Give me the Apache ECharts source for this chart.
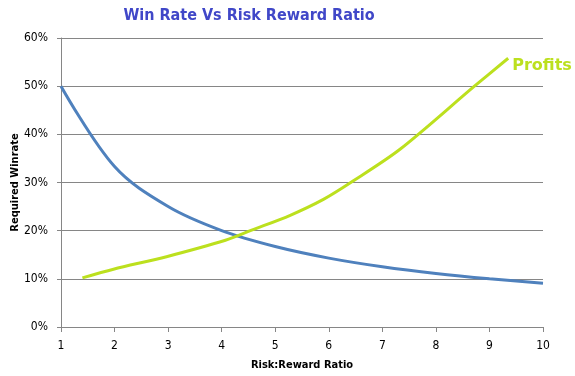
<!DOCTYPE html>
<html>
<head>
<meta charset="utf-8">
<script src="https://cdn.jsdelivr.net/npm/echarts@6/dist/echarts.min.js"></script>
<style>
  html, body { margin: 0; padding: 0; background: #fff; }
  #chart { width: 575px; height: 376px; }
</style>
</head>
<body>
<div id="chart"></div>
<script>
const ratios = [1, 2, 3, 4, 5, 6, 7, 8, 9, 10];
const winrate = [50, 33.3, 25, 20, 16.7, 14.3, 12.5, 11.1, 10, 9.1];

const profitX = [1.4, 1.98, 2.97, 4.07, 4.56, 5.28, 5.9, 6.41, 7.33, 8.72, 9.35];
const profitY = [10.2, 12, 14.6, 18, 20.1, 23.2, 26.5, 30, 36.9, 50, 55.8];

const font = "'DejaVu Sans Condensed', 'DejaVu Sans', sans-serif";
const gray = "#868686";

const option = {
  animation: false,
  textStyle: { fontFamily: font },
  title: {
    text: "Win Rate Vs Risk Reward Ratio",
    left: 244,
    textAlign: "center",
    top: 3,
    textStyle: { color: "#4047c8", fontSize: 16, fontWeight: "bold", fontFamily: font },
  },
  grid: { left: 61, right: 32, top: 38, bottom: 49, outerBoundsMode: "none" },
  xAxis: {
    type: "value",
    min: 1,
    max: 10,
    interval: 1,
    name: "Risk:Reward Ratio",
    nameLocation: "middle",
    nameGap: 33,
    nameMoveOverlap: false,
    nameTextStyle: { fontSize: 11, fontWeight: "bold", color: "#000", fontFamily: font },
    axisLine: { lineStyle: { color: gray } },
    axisTick: { show: true, length: 5, lineStyle: { color: gray } },
    axisLabel: { color: "#000", fontSize: 12, margin: 13, fontFamily: font },
    splitLine: { show: false },
  },
  yAxis: {
    type: "value",
    min: 0,
    max: 60,
    interval: 10,
    name: "Required Winrate",
    nameLocation: "middle",
    nameGap: 40,
    nameMoveOverlap: false,
    nameTextStyle: { fontSize: 11, fontWeight: "bold", color: "#000", fontFamily: font },
    axisLine: { show: true, lineStyle: { color: gray } },
    axisTick: { show: true, length: 4, lineStyle: { color: gray } },
    axisLabel: { color: "#000", fontSize: 12, formatter: "{value}%", margin: 13, fontFamily: font },
    splitLine: { lineStyle: { color: gray } },
  },
  series: [
    {
      type: "line",
      data: ratios.map((r, i) => [r, winrate[i]]),
      smooth: 0.35,
      showSymbol: false,
      lineStyle: { color: "#4f81bd", width: 3 },
    },
    {
      type: "line",
      data: profitX.map((r, i) => [r, profitY[i]]),
      smooth: 0.3,
      showSymbol: false,
      lineStyle: { color: "#bce01e", width: 3 },
      endLabel: {
        show: true,
        formatter: "Profits",
        color: "#bce01e",
        fontSize: 16,
        fontWeight: "bold",
        fontFamily: "'DejaVu Sans', sans-serif",
        distance: 4,
        offset: [0, 8],
      },
    },
  ],
};

echarts.init(document.getElementById("chart")).setOption(option);
</script>
</body>
</html>
